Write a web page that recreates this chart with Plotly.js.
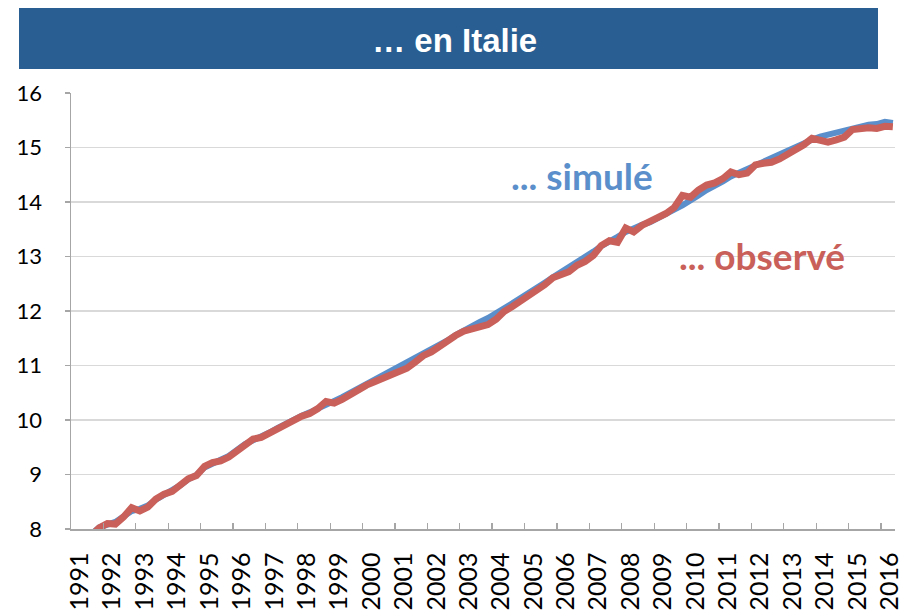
<!DOCTYPE html>
<html>
<head>
<meta charset="utf-8">
<script src="https://cdn.plot.ly/plotly-3.0.1.min.js"></script>
<style>html,body{margin:0;padding:0;background:#fff;}#chart{width:904px;height:612px;}</style>
</head>
<body>
<div id="chart"></div>
<script>
// Quarterly observations (mid-quarter dates), 1991 Q3 .. 2016 Q2
const quarters = [];
for (let y = 1991; y <= 2016; y++) {
  for (const m of ['02','05','08','11']) {
    const d = y + '-' + m + '-15';
    if (d >= '1991-08-15' && d <= '2016-05-15') quarters.push(d);
  }
}
const observe = [7.88,
  8.02,8.10,8.09,8.22,8.39,8.33,8.40,8.55,8.64,8.69,
  8.80,8.92,8.98,9.15,9.22,9.25,9.32,9.44,9.57,9.65,
  9.68,9.76,9.85,9.91,10.02,10.07,10.12,10.21,10.34,10.31,
  10.38,10.47,10.57,10.64,10.70,10.76,10.83,10.87,10.95,11.06,
  11.18,11.25,11.35,11.48,11.55,11.63,11.67,11.71,11.75,11.85,
  11.99,12.08,12.18,12.28,12.36,12.48,12.61,12.68,12.72,12.84,
  12.91,13.02,13.20,13.29,13.26,13.52,13.45,13.57,13.66,13.72,
  13.79,13.90,14.12,14.09,14.22,14.31,14.35,14.43,14.55,14.50,
  14.53,14.68,14.71,14.73,14.79,14.87,14.97,15.05,15.17,15.13,
  15.10,15.14,15.19,15.33,15.36,15.36,15.35,15.39,15.38];
const simule = [7.90,
  8.03,8.08,8.13,8.23,8.33,8.37,8.43,8.54,8.63,8.70,
  8.80,8.91,8.99,9.13,9.21,9.27,9.34,9.45,9.56,9.63,
  9.69,9.77,9.85,9.93,10.02,10.08,10.14,10.22,10.29,10.35,
  10.42,10.50,10.59,10.67,10.75,10.83,10.91,10.97,11.04,11.12,
  11.20,11.28,11.36,11.46,11.56,11.65,11.72,11.80,11.87,11.95,
  12.05,12.14,12.23,12.33,12.42,12.52,12.62,12.71,12.80,12.90,
  12.99,13.09,13.19,13.29,13.36,13.45,13.52,13.58,13.63,13.70,
  13.78,13.86,13.94,14.02,14.12,14.22,14.29,14.38,14.47,14.54,
  14.60,14.66,14.73,14.80,14.86,14.93,15.00,15.07,15.14,15.20,
  15.24,15.28,15.32,15.36,15.39,15.42,15.43,15.47,15.45];
const yearTicks = [];
const yearLabels = [];
for (let y = 1991; y <= 2016; y++) { yearTicks.push(y + '-01-01'); yearLabels.push(String(y)); }
const yTicks = [8,9,10,11,12,13,14,15,16];

const traces = [
  {x: quarters, y: simule, type: 'scatter', mode: 'lines', name: '... simulé',
   line: {color: '#5A8FCB', width: 6}, hoverinfo: 'skip'},
  {x: quarters, y: observe, type: 'scatter', mode: 'lines', name: '... observé',
   line: {color: '#C9605A', width: 7}, hoverinfo: 'skip'}
];

const layout = {
  width: 904, height: 612,
  margin: {l: 71, r: 9, t: 93, b: 83},
  paper_bgcolor: '#ffffff', plot_bgcolor: '#ffffff',
  showlegend: false,
  title: {text: '<b>… en Italie</b>', font: {family: 'Liberation Sans, Arial', size: 33, color: '#ffffff'},
          x: 0.503, xref: 'container', xanchor: 'center', y: 1 - 40/612, yref: 'container', yanchor: 'middle'},
  xaxis: {
    type: 'date', range: ['1991-01-01', '2016-06-08'],
    tickmode: 'array', tickvals: yearTicks, ticktext: yearLabels,
    tickangle: -90, ticks: 'inside', ticklen: 6, tickwidth: 1.3, tickcolor: '#A6A6A6',
    ticklabelshift: 9, ticklabelstandoff: 12,
    tickfont: {family: 'Lato', size: 25, color: '#000000'},
    showline: true, linecolor: '#A6A6A6', linewidth: 1.5,
    showgrid: false, zeroline: false, fixedrange: true
  },
  yaxis: {
    range: [8, 16], tickmode: 'array', tickvals: yTicks,
    ticks: 'outside', ticklen: 5, tickwidth: 1.3, tickcolor: '#A6A6A6',
    ticklabelstandoff: 18,
    tickfont: {family: 'Lato', size: 22, color: '#000000'},
    showline: true, linecolor: '#A6A6A6', linewidth: 1.5,
    showgrid: true, gridcolor: '#D9D9D9', gridwidth: 1.5, zeroline: false, fixedrange: true
  },
  shapes: [{type: 'rect', xref: 'paper', yref: 'paper', layer: 'below',
            x0: (19-71)/824, x1: (878-71)/824, y0: (529-69)/436, y1: (529-8)/436,
            fillcolor: '#285E91', line: {width: 0}}],
  annotations: [
    {xref: 'x', yref: 'y', x: '2006-10-10', y: 14.48, text: '<b>... simulé</b>', showarrow: false,
     font: {family: 'Lato', size: 37, color: '#5A8FCB'}, xanchor: 'center', yanchor: 'middle'},
    {xref: 'x', yref: 'y', x: '2012-05-01', y: 13.02, text: '<b>... observé</b>', showarrow: false,
     font: {family: 'Lato', size: 37, color: '#C9605A'}, xanchor: 'center', yanchor: 'middle'}
  ]
};
Plotly.newPlot('chart', traces, layout, {displayModeBar: false, staticPlot: true});
</script>
</body>
</html>
